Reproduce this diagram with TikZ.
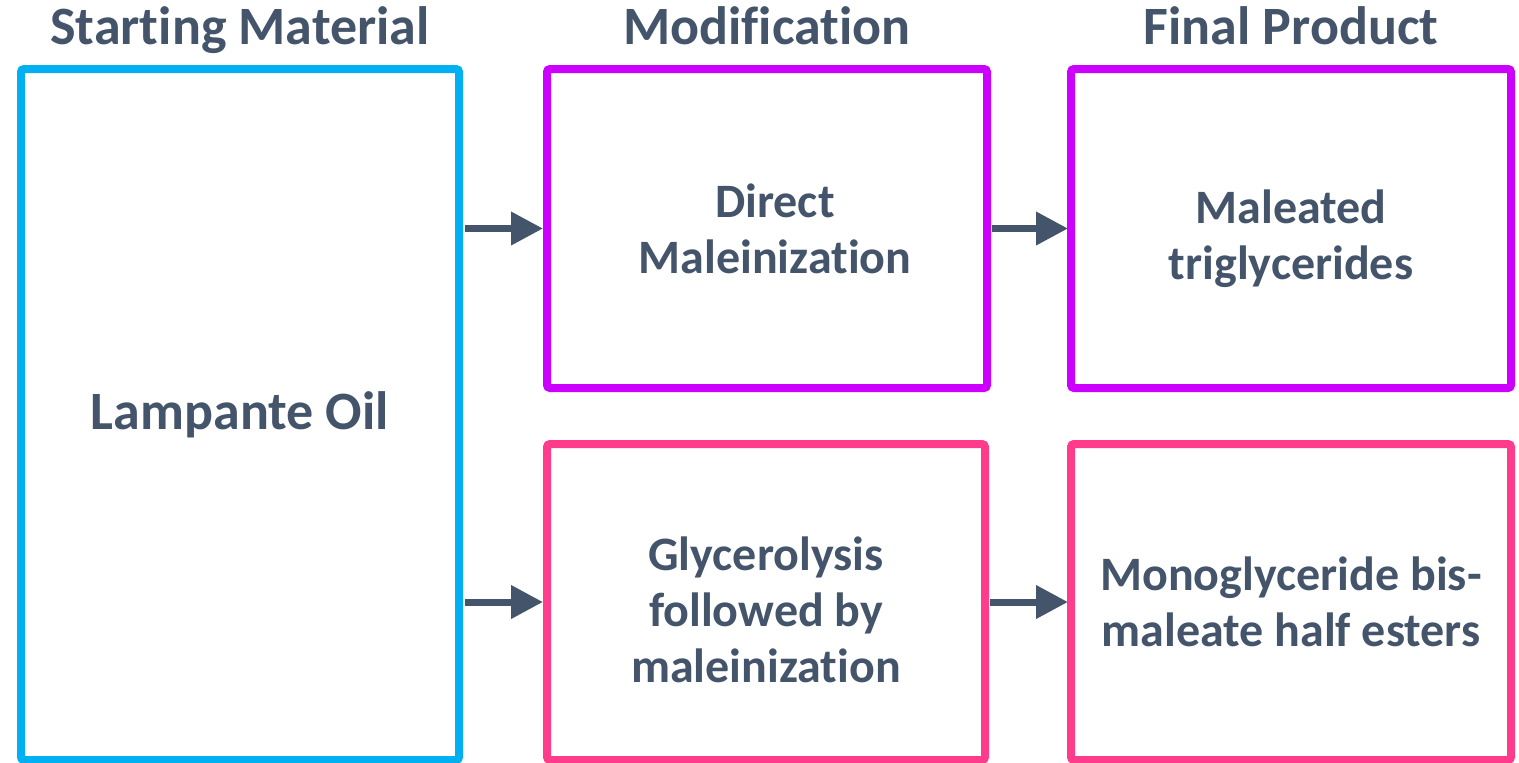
\documentclass[tikz,border=0pt]{standalone}
\usepackage{fontspec}
\setmainfont{Carlito}[Ligatures=NoCommon]
\usetikzlibrary{arrows.meta}
\definecolor{txtgray}{HTML}{44546A}
\definecolor{oilblue}{HTML}{00B0F0}
\definecolor{modpurple}{HTML}{CC00FF}
\definecolor{estpink}{HTML}{FF3C8C}
\newcommand{\nudgetext}[3]{\raisebox{-#2}[\height][\depth]{\hspace*{#1}\begin{tabular}{@{}c@{}}#3\end{tabular}\hspace*{-#1}}}

\begin{document}
\begin{tikzpicture}[x=0.5pt,y=-0.5pt,
        box/.style={draw, line width=4pt, rounded corners=1.5pt, inner sep=0pt, outer sep=0pt,
            align=center, text=txtgray, font=\bfseries\fontsize{24}{28}\selectfont},
        heading/.style={anchor=base, text=txtgray, font=\bfseries\fontsize{27}{28}\selectfont},
        link/.style={draw=txtgray, line width=3.5pt, -{Triangle[length=16pt,width=16pt]}}]
        \useasboundingbox (0,0) rectangle (1519,762);
        \node[box, draw=oilblue, minimum width=219pt, minimum height=345.5pt, font=\bfseries\fontsize{27}{28}\selectfont] (oil) at (240,414.5) {Lampante Oil};
        \node[box, draw=modpurple, minimum width=220pt, minimum height=159.5pt] (direct) at (767,228.5) {\nudgetext{4pt}{3pt}{Direct\\Maleinization}};
        \node[box, draw=modpurple, minimum width=220pt, minimum height=159.5pt] (maltri) at (1291,228.5) {\nudgetext{0pt}{6pt}{Maleated\\triglycerides}};
        \node[box, draw=estpink, minimum width=219pt, minimum height=158pt] (glyc) at (766,602) {\nudgetext{0pt}{6.5pt}{Glycerolysis\\followed by\\maleinization}};
        \node[box, draw=estpink, minimum width=220pt, minimum height=158pt] (mono) at (1291,602) {Monoglyceride bis-\\maleate half esters};
        \node[heading] (hstart) at ([yshift=12.5pt]oil.north) {Starting Material};
        \node[heading] (hmod) at ([yshift=12.5pt]direct.north) {Modification};
        \node[heading] (hfinal) at ([yshift=12.5pt]maltri.north) {Final Product};
        \foreach \a/\b in {direct/maltri,glyc/mono}
            \draw[link, shorten <=2.5pt, shorten >=1.5pt] (\a.east) -- (\b.west);
        \foreach \b in {direct,glyc}
            \draw[link, shorten <=3pt, shorten >=2pt] (oil.east |- \b.west) -- (\b.west);
\end{tikzpicture}
\end{document}
